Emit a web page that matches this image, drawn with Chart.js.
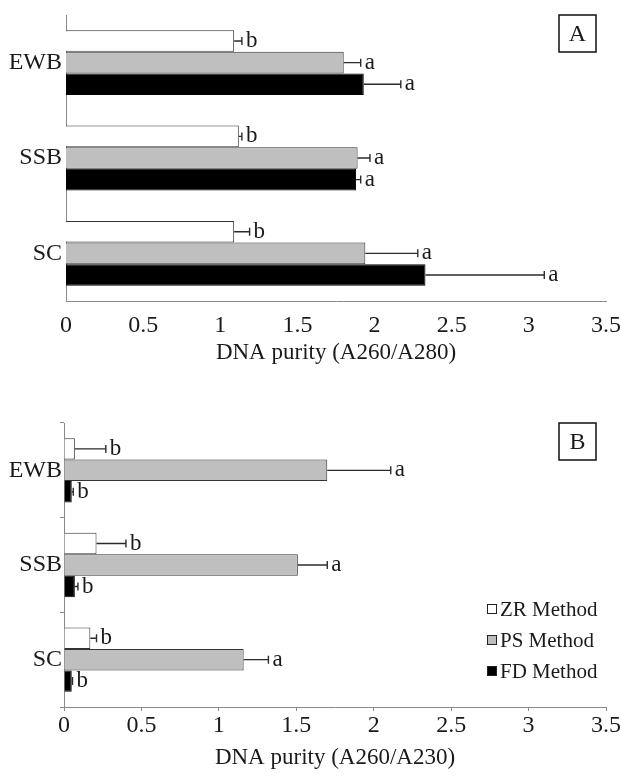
<!DOCTYPE html>
<html>
<head>
<meta charset="utf-8">
<script src="https://cdn.jsdelivr.net/npm/chart.js@4.4.0/dist/chart.umd.min.js"></script>
<style>
  html, body { margin: 0; padding: 0; background: #fff; }
  #wrap { position: relative; width: 620px; height: 777px; overflow: hidden; }
  .panel { position: absolute; left: 0; width: 620px; height: 390px; }
  #panelA { top: 0; }
  #panelB { top: 400px; }
</style>
</head>
<body>
<div id="wrap">
  <div class="panel" id="panelA"><canvas id="chartA" width="620" height="390"></canvas></div>
  <div class="panel" id="panelB"><canvas id="chartB" width="620" height="390"></canvas></div>
</div>
<script>
// categorias e métodos
const categories = ['EWB', 'SSB', 'SC'];
const methods = ['ZR Method', 'PS Method', 'FD Method'];
const xTicks = [0, 0.5, 1, 1.5, 2, 2.5, 3, 3.5];

// painel A - A260/A280
const zrA = [1.09, 1.12, 1.09];
const zrErrA = [0.05, 0.02, 0.10];
const zrLetA = ['b', 'b', 'b'];
const psA = [1.80, 1.89, 1.94];
const psErrA = [0.11, 0.08, 0.34];
const psLetA = ['a', 'a', 'a'];
const fdA = [1.93, 1.88, 2.33];
const fdErrA = [0.24, 0.03, 0.77];
const fdLetA = ['a', 'a', 'a'];

// painel B - A260/A230
const zrB = [0.07, 0.21, 0.17];
const zrErrB = [0.20, 0.19, 0.04];
const zrLetB = ['b', 'b', 'b'];
const psB = [1.70, 1.51, 1.16];
const psErrB = [0.41, 0.19, 0.16];
const psLetB = ['a', 'a', 'a'];
const fdB = [0.05, 0.07, 0.05];
const fdErrB = [0.01, 0.02, 0.005];
const fdLetB = ['b', 'b', 'b'];

const SERIF = '"Liberation Serif", "Times New Roman", serif';
const TXT = '#1a1a1a';
const AXIS = '#8a8a8a';

// barras de erro + letras
const errorBarPlugin = {
  id: 'errorBars',
  afterDatasetsDraw(chart) {
    const ctx = chart.ctx;
    const xs = chart.scales.x;
    chart.data.datasets.forEach((ds, i) => {
      const meta = chart.getDatasetMeta(i);
      meta.data.forEach((bar, j) => {
        const end = xs.getPixelForValue(ds.data[j] + ds.errors[j]);
        ctx.save();
        ctx.strokeStyle = '#2b2b2b';
        ctx.lineWidth = 1.4;
        ctx.beginPath();
        ctx.moveTo(bar.x, bar.y);
        ctx.lineTo(end, bar.y);
        ctx.moveTo(end, bar.y - 4);
        ctx.lineTo(end, bar.y + 4);
        ctx.stroke();
        ctx.fillStyle = TXT;
        ctx.font = '23px ' + SERIF;
        ctx.textBaseline = 'middle';
        ctx.fillText(ds.letters[j], end + 4, bar.y);
        ctx.restore();
      });
    });
  }
};

// caixa com a letra do painel
const panelTagPlugin = {
  id: 'panelTag',
  afterDraw(chart, args, opts) {
    if (!opts.text) return;
    const ctx = chart.ctx;
    const w = 37, h = 37;
    const x = chart.chartArea.right - 10 - w;
    const y = chart.chartArea.top;
    ctx.save();
    ctx.strokeStyle = '#111';
    ctx.lineWidth = 1.5;
    ctx.strokeRect(x, y, w, h);
    ctx.fillStyle = TXT;
    ctx.font = '24px ' + SERIF;
    ctx.textAlign = 'center';
    ctx.textBaseline = 'middle';
    ctx.fillText(opts.text, x + w / 2, y + h / 2 + 1);
    ctx.restore();
  }
};

// legenda desenhada dentro da área do gráfico
const boxLegendPlugin = {
  id: 'boxLegend',
  afterDraw(chart, args, opts) {
    if (!opts.show) return;
    const ctx = chart.ctx;
    ctx.save();
    ctx.font = '21px ' + SERIF;
    ctx.textBaseline = 'middle';
    chart.data.datasets.forEach((ds, i) => {
      const cy = opts.y + i * opts.gap;
      ctx.fillStyle = ds.backgroundColor;
      ctx.fillRect(opts.x, cy - 5, 10, 10);
      ctx.strokeStyle = '#222';
      ctx.lineWidth = 1;
      ctx.strokeRect(opts.x + 0.5, cy - 4.5, 9, 9);
      ctx.fillStyle = TXT;
      ctx.fillText(ds.label, opts.x + 13, cy + 1);
    });
    ctx.restore();
  }
};

function makeDatasets(zr, zrE, zrL, ps, psE, psL, fd, fdE, fdL) {
  const base = { borderWidth: 1, categoryPercentage: 0.68, barPercentage: 1.0 };
  return [
    Object.assign({ label: methods[0], data: zr, errors: zrE, letters: zrL,
      backgroundColor: '#ffffff', borderColor: '#333333' }, base),
    Object.assign({ label: methods[1], data: ps, errors: psE, letters: psL,
      backgroundColor: '#bfbfbf', borderColor: '#333333' }, base),
    Object.assign({ label: methods[2], data: fd, errors: fdE, letters: fdL,
      backgroundColor: '#000000', borderColor: '#000000' }, base)
  ];
}

function makeChart(id, datasets, cfg) {
  return new Chart(document.getElementById(id), {
    type: 'bar',
    data: { labels: categories, datasets: datasets },
    options: {
      indexAxis: 'y',
      responsive: false,
      animation: false,
      layout: { padding: cfg.padding },
      plugins: {
        legend: { display: false },
        tooltip: { enabled: false },
        panelTag: { text: cfg.tag },
        boxLegend: cfg.legend
      },
      scales: {
        x: {
          min: 0,
          max: 3.5,
          afterBuildTicks: (s) => { s.ticks = xTicks.map(v => ({ value: v })); },
          grid: { display: cfg.ticks, drawOnChartArea: false, tickLength: 4, color: AXIS },
          border: { display: true, color: AXIS, width: 1 },
          ticks: {
            font: { family: SERIF, size: 24 }, color: TXT,
            padding: cfg.tickPad, maxRotation: 0,
            callback: (v) => String(v)
          },
          title: {
            display: true,
            text: cfg.title,
            font: { family: SERIF, size: 23 },
            color: TXT,
            padding: { top: 0, bottom: 4 }
          },
          afterFit: (s) => { s.height = cfg.xh; s.paddingRight = 14; }
        },
        y: {
          grid: { display: cfg.ticks, drawOnChartArea: false, tickLength: 4, color: AXIS },
          border: { display: true, color: AXIS, width: 1 },
          ticks: { font: { family: SERIF, size: 24 }, color: TXT, padding: cfg.ticks ? -2 : 0 },
          afterFit: (s) => { s.width = cfg.yw; }
        }
      }
    },
    plugins: [errorBarPlugin, panelTagPlugin, boxLegendPlugin]
  });
}

makeChart('chartA',
  makeDatasets(zrA, zrErrA, zrLetA, psA, psErrA, psLetA, fdA, fdErrA, fdLetA),
  { tag: 'A', title: 'DNA purity (A260/A280)', ticks: false, tickPad: 6,
    padding: { top: 15, right: 0, bottom: 19, left: 0 }, xh: 70, yw: 66,
    legend: { show: false } });

makeChart('chartB',
  makeDatasets(zrB, zrErrB, zrLetB, psB, psErrB, psLetB, fdB, fdErrB, fdLetB),
  { tag: 'B', title: 'DNA purity (A260/A230)', ticks: true, tickPad: 0,
    padding: { top: 23, right: 0, bottom: 14, left: 0 }, xh: 69, yw: 64,
    legend: { show: true, x: 487, y: 209, gap: 31 } });
</script>
</body>
</html>
